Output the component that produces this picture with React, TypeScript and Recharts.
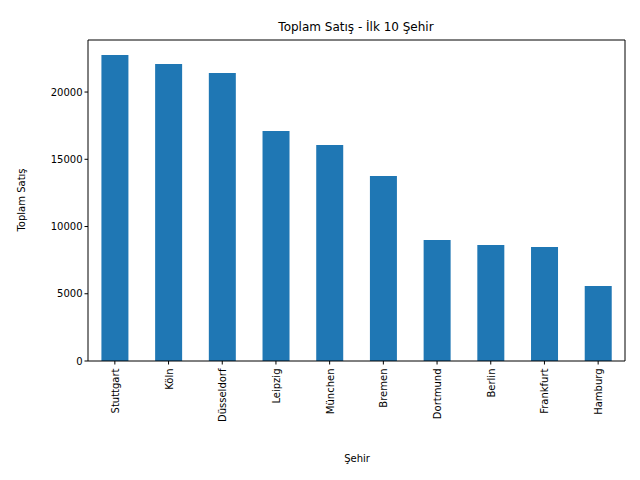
import React from "react";
import { BarChart, Bar, XAxis, YAxis } from "recharts";

const cities = ["Stuttgart","Köln","Düsseldorf","Leipzig","München","Bremen","Dortmund","Berlin","Frankfurt","Hamburg"];
const sales = [22750,22080,21410,17100,16060,13750,9000,8620,8480,5580];
const yTicks = [0,5000,10000,15000,20000];
const data = cities.map((c, i) => ({ city: c, value: sales[i] }));

const F = "DejaVu Sans";

const XTick = (props: any) => {
  const { x, y, payload } = props;
  return (
    <g transform={`translate(${x},${y + 2})`}>
      <text transform="rotate(-90)" textAnchor="end" dy={4} fontSize={10} fontFamily={F} fill="#000">{payload.value}</text>
    </g>
  );
};

export default function App() {
  return (
    <div style={{ position: "absolute", left: 0, top: 0, width: 640, height: 480, background: "#fff" }}>
      <BarChart width={640} height={480} data={data} margin={{ top: 40, right: 15, left: 0, bottom: 0 }} barCategoryGap="25%">
        <XAxis dataKey="city" tick={<XTick />} interval={0} stroke="#000" tickLine={{ stroke: "#000" }} tickSize={3.5} height={119} />
        <YAxis domain={[0, 23870]} ticks={yTicks} width={88} stroke="#000" tickSize={3.5} tick={{ fontSize: 10, fontFamily: F, fill: "#000" }} />
        <Bar dataKey="value" fill="#1f77b4" isAnimationActive={false} />
        <line x1={625} y1={40} x2={625} y2={361} stroke="#000" />
        <line x1={88} y1={40} x2={625} y2={40} stroke="#000" />
        <text x={356} y={31} textAnchor="middle" fontSize={12} fontFamily={F}>Toplam Satış - İlk 10 Şehir</text>
        <text x={357} y={462} textAnchor="middle" fontSize={10} fontFamily={F}>Şehir</text>
        <text transform="translate(25,200) rotate(-90)" textAnchor="middle" fontSize={10} fontFamily={F}>Toplam Satış</text>
      </BarChart>
    </div>
  );
}
